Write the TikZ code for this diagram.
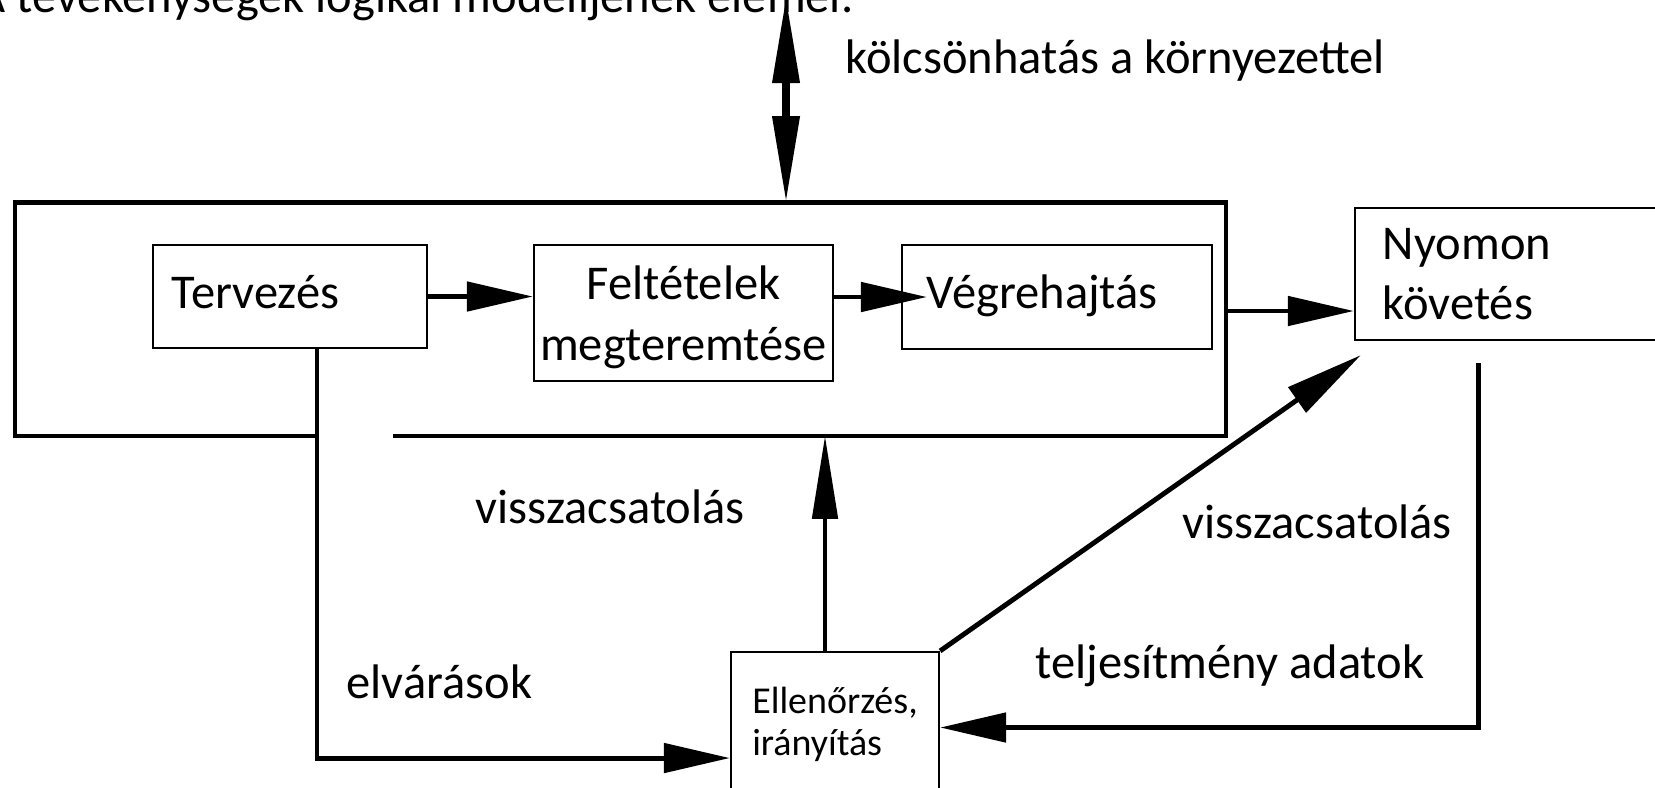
\documentclass[tikz,border=0pt]{standalone}
\usepackage{fontspec}
\setmainfont{Carlito}
\usetikzlibrary{arrows.meta}

\begin{document}
\begin{tikzpicture}[x=0.01cm, y=-0.01cm,
font=\fontsize{13.8}{17.2}\selectfont,
box/.style={draw, line width=0.6pt, rectangle, inner ysep=0pt},
lbl/.style={inner sep=0pt, anchor=base west},
flow/.style={line width=1.4pt, -{Triangle[length=0.66cm, width=0.29cm]}}
]
\clip (0,0) rectangle (1655,787);

\node[lbl] (title) at (-23,12) {A tevékenységek logikai modelljének elemei.};

\node[inner sep=0pt, minimum width=12.09cm, minimum height=2.32cm] (proc) at (620.5,319) {};
\node[box, minimum width=2.74cm, minimum height=1.03cm, text width=2.36cm, inner xsep=0.19cm, text depth=0.1cm] (terv) at (290,296.5) {Tervezés};
\node[box, minimum width=2.99cm, minimum height=1.36cm, inner xsep=0pt, align=center, text depth=0pt] (felt) at (683.5,313) {Feltételek\\megteremtése};
\node[box, minimum width=3.10cm, minimum height=1.04cm, text width=2.60cm, inner xsep=0.25cm, text depth=0.1cm] (veg) at (1057,297) {Végrehajtás};
\node[box, minimum width=3.20cm, minimum height=1.32cm, text width=2.64cm, inner xsep=0.28cm] (nyomon) at (1515,274) {Nyomon\\követés};
\node[box, font=\fontsize{10.8}{12}\selectfont, minimum width=2.08cm, minimum height=1.45cm, align=left] (ellen) at (835,724.5) {Ellenőrzés,\\irányítás};

\coordinate (drop) at ([xshift=0.27cm]terv.south);
\coordinate (gapL) at (drop |- proc.south);
\coordinate (gapR) at ([xshift=0.76cm]gapL);
\draw[line width=1.3pt] (gapR) -- (proc.south east) -- (proc.north east) -- (proc.north west) -- (proc.south west) -- (gapL);

\draw[flow] (terv.east) -- (terv.east -| felt.west);
\draw[flow] (felt.east |- veg.west) -- (veg.text |- veg.west);
\coordinate (out) at ([yshift=0.08cm]proc.east);
\draw[flow] (out) -- (out -| nyomon.west);

\coordinate (env) at (786,-3);
\draw[line width=2pt, {Triangle[length=0.86cm, width=0.26cm]}-{Triangle[length=0.86cm, width=0.26cm]}] (env) -- (env |- proc.north);
\node[lbl] (envlbl) at (845,73) {kölcsönhatás a környezettel};

\draw[flow] (drop) |- ([yshift=-0.335cm]ellen.west);
\node[lbl] (explbl) at (346,698) {elvárások};

\coordinate (fb) at ([xshift=-0.1cm]ellen.north);
\draw[flow, -{Triangle[length=0.83cm, width=0.25cm]}] (fb) -- (fb |- proc.south);
\node[lbl] (fblbl) at (475,523) {visszacsatolás};

\coordinate (obs) at ([shift={(0.07cm,-0.14cm)}]nyomon.south west);
\draw[flow, -{Triangle[length=0.78cm, width=0.3cm]}] (ellen.north east) -- (obs);
\node[lbl] (obslbl) at (1182,538) {visszacsatolás};

\coordinate (perf) at ([shift={(1.25cm,-0.22cm)}]nyomon.south west);
\draw[flow] (perf) |- ([yshift=-0.03cm]ellen.east);
\node[lbl] (perflbl) at (1035,678) {teljesítmény adatok};
\end{tikzpicture}
\end{document}
